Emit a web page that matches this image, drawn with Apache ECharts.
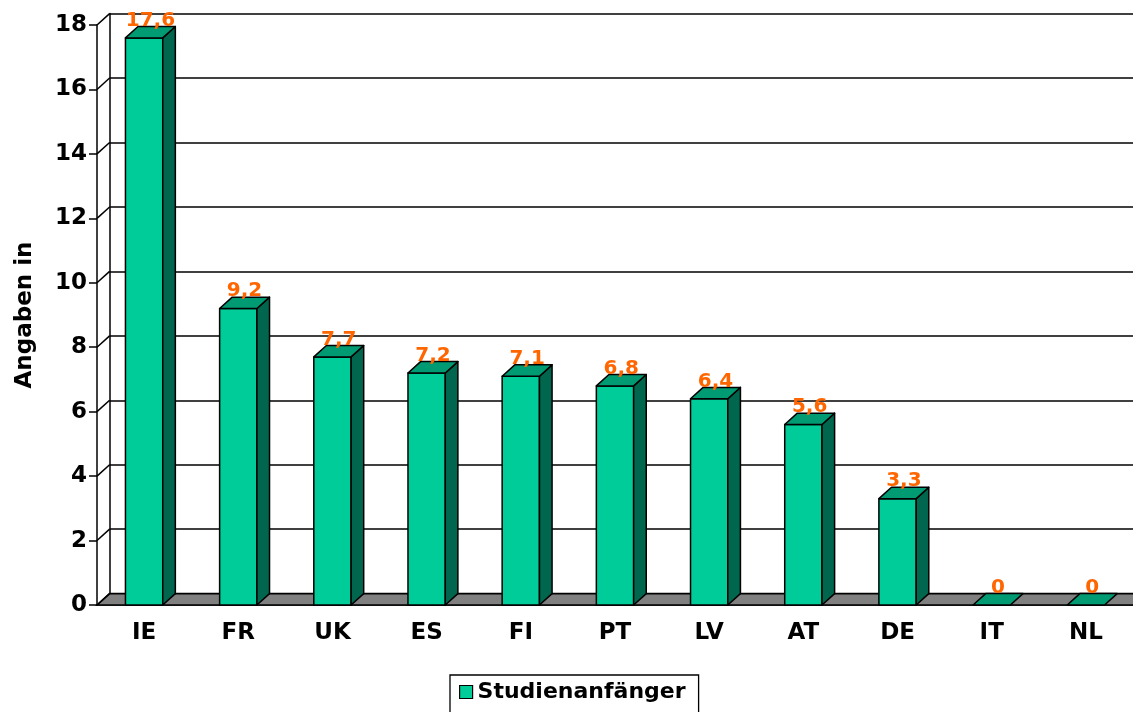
<!DOCTYPE html>
<html>
<head>
<meta charset="utf-8">
<script src="https://cdn.jsdelivr.net/npm/echarts@6/dist/echarts.min.js"></script>
<style>
  html, body { margin: 0; padding: 0; background: #fff; }
  #main { width: 1133px; height: 712px; }
</style>
</head>
<body>
<div id="main"></div>
<script>
// Daten
var countries = ['IE', 'FR', 'UK', 'ES', 'FI', 'PT', 'LV', 'AT', 'DE', 'IT', 'NL'];
var studienanfaenger = [17.6, 9.2, 7.7, 7.2, 7.1, 6.8, 6.4, 5.6, 3.3, 0, 0];
var yTicks = [0, 2, 4, 6, 8, 10, 12, 14, 16, 18];

// 3D-Tiefe (Pixel)
var DX = 12.6, DY = 11.4;
var BAR_RATIO = 0.396;
var FONT = 'DejaVu Sans';

var myChart = echarts.init(document.getElementById('main'));

// Rückwand, Boden und Diagonalen
function renderWall(params, api) {
    var v = api.value(0);
    var cs = params.coordSys;
    var y = api.coord([0, v])[1];
    var x0 = cs.x;
    var children = [];
    if (v === 0) {
        children.push({
            type: 'polygon',
            shape: { points: [[x0, y], [x0 + DX, y - DY], [x0 + cs.width + DX, y - DY], [x0 + cs.width, y]] },
            style: { fill: '#808080', stroke: '#000', lineWidth: 1.6 }
        });
    }
    children.push({
        type: 'line',
        shape: { x1: x0, y1: y, x2: x0 + DX, y2: y - DY },
        style: { stroke: '#000', lineWidth: 1.5 }
    });
    return { type: 'group', children: children };
}

// 3D-Säulen
function renderBar(params, api) {
    var i = api.value(0), v = api.value(1);
    var top = api.coord([i, v]);
    var base = api.coord([i, 0]);
    var w = api.size([1, 0])[0] * BAR_RATIO;
    var x0 = top[0] - w / 2, x1 = top[0] + w / 2;
    var yT = top[1], yB = base[1];
    var line = { stroke: '#000', lineWidth: 1.5, lineJoin: 'round' };
    var children = [];
    if (v > 0) {
        children.push({
            type: 'polygon',
            shape: { points: [[x0, yT], [x1, yT], [x1, yB], [x0, yB]] },
            style: Object.assign({ fill: '#00CC99' }, line)
        });
        children.push({
            type: 'polygon',
            shape: { points: [[x1, yT], [x1 + DX, yT - DY], [x1 + DX, yB - DY], [x1, yB]] },
            style: Object.assign({ fill: '#00664D' }, line)
        });
    }
    children.push({
        type: 'polygon',
        shape: { points: [[x0, yT], [x0 + DX, yT - DY], [x1 + DX, yT - DY], [x1, yT]] },
        style: Object.assign({ fill: '#009B72' }, line)
    });
    children.push({
        type: 'text',
        style: {
            x: top[0] + DX / 2,
            y: yT - DY + 4,
            text: String(v).replace('.', ','),
            fill: '#FF6600',
            font: 'bold 20px "' + FONT + '"',
            align: 'center',
            verticalAlign: 'bottom'
        }
    });
    return { type: 'group', children: children };
}

myChart.setOption({
    animation: false,
    backgroundColor: '#fff',
    grid: [
        { left: 97, top: 25, width: 1044, height: 580 },
        { left: 97 + DX, top: 25 - DY, width: 1044, height: 580 }
    ],
    legend: {
        left: 450,
        top: 675,
        padding: [6, 13, 30, 9],
        borderColor: '#000',
        borderWidth: 1.3,
        itemWidth: 13,
        itemHeight: 13,
        itemGap: 5,
        data: [{ name: 'Studienanfänger', icon: 'rect', itemStyle: { color: '#00CC99', borderColor: '#000', borderWidth: 1.2 } }],
        textStyle: { fontFamily: FONT, fontWeight: 'bold', fontSize: 22, color: '#000' }
    },
    xAxis: [{
        type: 'category',
        gridIndex: 0,
        data: countries,
        axisLine: { lineStyle: { color: '#000', width: 1.6 } },
        axisTick: { length: 7, lineStyle: { color: '#000', width: 1.3 } },
        axisLabel: { margin: 17, fontFamily: FONT, fontWeight: 'bold', fontSize: 23, color: '#000' }
    }, {
        type: 'category',
        gridIndex: 1,
        data: countries,
        axisLine: { show: false },
        axisTick: { show: false },
        axisLabel: { show: false }
    }],
    yAxis: [{
        type: 'value',
        gridIndex: 0,
        min: 0,
        max: 18,
        interval: 2,
        name: 'Angaben in',
        nameLocation: 'middle',
        nameRotate: 90,
        nameGap: 60,
        nameTextStyle: { fontFamily: FONT, fontWeight: 'bold', fontSize: 23, color: '#000' },
        axisLine: { show: true, lineStyle: { color: '#000', width: 1.5 } },
        axisTick: { show: true, length: 8, lineStyle: { color: '#000', width: 1.5 } },
        axisLabel: { margin: 10, fontFamily: FONT, fontWeight: 'bold', fontSize: 23, color: '#000' },
        splitLine: { show: false }
    }, {
        type: 'value',
        gridIndex: 1,
        min: 0,
        max: 18,
        interval: 2,
        axisLine: { show: true, lineStyle: { color: '#000', width: 1.5 } },
        axisTick: { show: false },
        axisLabel: { show: false },
        splitLine: { show: true, lineStyle: { color: '#000', width: 1.6 } }
    }],
    series: [{
        name: 'wand',
        type: 'custom',
        xAxisIndex: 0,
        yAxisIndex: 0,
        renderItem: renderWall,
        data: yTicks.map(function (t) { return [t]; }),
        encode: { y: 0 },
        silent: true,
        z: 1
    }, {
        name: 'Studienanfänger',
        type: 'custom',
        xAxisIndex: 0,
        yAxisIndex: 0,
        renderItem: renderBar,
        itemStyle: { color: '#00CC99' },
        data: studienanfaenger.map(function (v, i) { return [i, v]; }),
        encode: { x: 0, y: 1 },
        z: 3
    }]
});
</script>
</body>
</html>
